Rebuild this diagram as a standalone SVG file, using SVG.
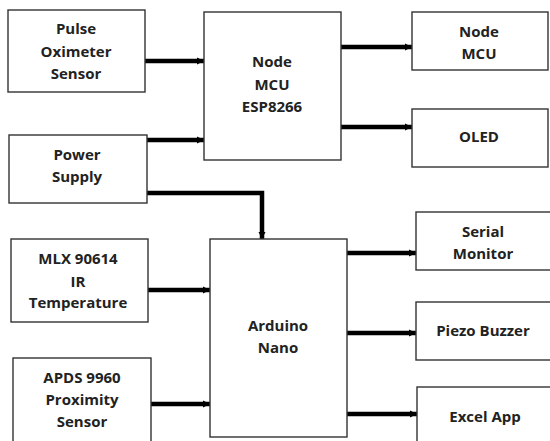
<svg xmlns="http://www.w3.org/2000/svg" width="550" height="441" viewBox="0 0 550 441">
<defs>
<style>
.box{fill:#fff;stroke:#333;stroke-width:1.4}
.t{font-family:"Open Sans","Noto Sans","Liberation Sans",sans-serif;font-weight:bold;font-size:15px;fill:#222;text-anchor:middle}
.c{fill:none;stroke:#000;stroke-width:4.5}
</style>
<marker id="ah" viewBox="0 0 8 8" refX="8" refY="4" markerWidth="7" markerHeight="8" markerUnits="userSpaceOnUse" orient="auto">
<path d="M0,0 L8,4 L0,8 Z" fill="#000"/>
</marker>
</defs>
<rect width="550" height="441" fill="#fff"/>
<g id="connectors">
<line class="c" x1="145" y1="61" x2="204" y2="61" marker-end="url(#ah)"/>
<line class="c" x1="147" y1="140" x2="204" y2="140" marker-end="url(#ah)"/>
<polyline class="c" points="145,193 262,193 262,239" marker-end="url(#ah)"/>
<line class="c" x1="341" y1="47" x2="412" y2="47" marker-end="url(#ah)"/>
<line class="c" x1="340" y1="127" x2="412" y2="127" marker-end="url(#ah)"/>
<line class="c" x1="148" y1="290" x2="210" y2="290" marker-end="url(#ah)"/>
<line class="c" x1="151" y1="404" x2="210" y2="404" marker-end="url(#ah)"/>
<line class="c" x1="347" y1="253" x2="416" y2="253" marker-end="url(#ah)"/>
<line class="c" x1="347" y1="333" x2="416" y2="333" marker-end="url(#ah)"/>
<line class="c" x1="346" y1="414" x2="417" y2="414" marker-end="url(#ah)"/>
</g>
<g id="pulse">
<rect class="box" x="8" y="10" width="137" height="82"/>
<text class="t" x="76" y="34">Pulse</text>
<text class="t" x="76" y="57">Oximeter</text>
<text class="t" x="76" y="79">Sensor</text>
</g>
<g id="esp">
<rect class="box" x="204" y="12" width="137" height="148"/>
<text class="t" x="272" y="67">Node</text>
<text class="t" x="272" y="90">MCU</text>
<text class="t" x="272" y="112">ESP8266</text>
</g>
<g id="power">
<rect class="box" x="9" y="135" width="138" height="68"/>
<text class="t" x="77" y="160">Power</text>
<text class="t" x="77" y="182">Supply</text>
</g>
<g id="nodemcu">
<rect class="box" x="412" y="12" width="136" height="58"/>
<text class="t" x="479" y="37">Node</text>
<text class="t" x="479" y="59">MCU</text>
</g>
<g id="oled">
<rect class="box" x="412" y="109" width="136" height="58"/>
<text class="t" x="479" y="142">OLED</text>
</g>
<g id="mlx">
<rect class="box" x="11" y="239" width="137" height="83"/>
<text class="t" x="78" y="264">MLX 90614</text>
<text class="t" x="78" y="287">IR</text>
<text class="t" x="78" y="308">Temperature</text>
</g>
<g id="apds">
<rect class="box" x="13" y="358" width="138" height="100"/>
<text class="t" x="82" y="383">APDS 9960</text>
<text class="t" x="82" y="405">Proximity</text>
<text class="t" x="82" y="427">Sensor</text>
</g>
<g id="arduino">
<rect class="box" x="210" y="239" width="137" height="198"/>
<text class="t" x="278" y="331">Arduino</text>
<text class="t" x="278" y="353">Nano</text>
</g>
<g id="serial">
<rect class="box" x="416" y="212" width="150" height="58"/>
<text class="t" x="483" y="237">Serial</text>
<text class="t" x="483" y="259">Monitor</text>
</g>
<g id="piezo">
<rect class="box" x="416" y="302" width="150" height="58"/>
<text class="t" x="483" y="336">Piezo Buzzer</text>
</g>
<g id="excel">
<rect class="box" x="417" y="387" width="150" height="70"/>
<text class="t" x="485" y="422">Excel App</text>
</g>
</svg>
